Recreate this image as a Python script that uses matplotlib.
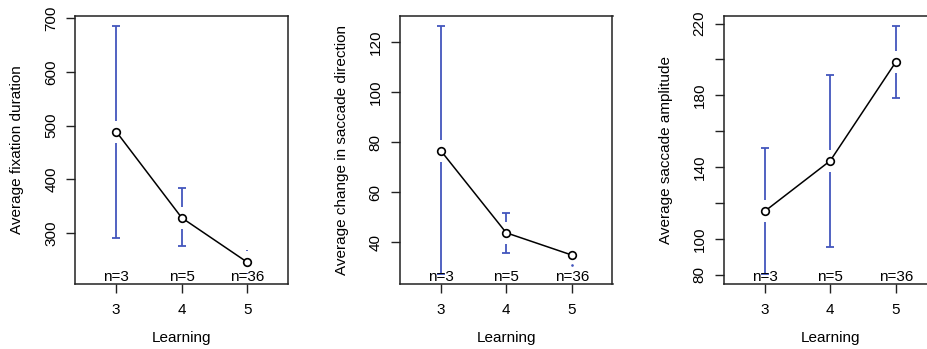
import matplotlib
matplotlib.use("Agg")
import matplotlib.pyplot as plt
import numpy as np

plt.rcParams['font.family'] = ['Liberation Sans', 'DejaVu Sans']

# ---- data ----
learning = [3, 4, 5]
n_labels = ["n=3", "n=5", "n=36"]

fix_mean = [489, 328, 245]
fix_lower = [291, 275, 223]
fix_upper = [686, 383, 268]

dir_mean = [76.7, 43.8, 34.9]
dir_lower = [27.3, 35.8, 30.9]
dir_upper = [126.5, 51.8, 39.4]

amp_mean = [115.3, 143.5, 198.6]
amp_lower = [80.3, 95.2, 178.4]
amp_upper = [150.8, 191.6, 218.7]

ylabels = ["Average fixation duration",
           "Average change in saccade direction",
           "Average saccade amplitude"]
yticks = [[300, 400, 500, 600, 700],
          [40, 60, 80, 100, 120],
          [80, 100, 120, 140, 160, 180, 200, 220]]
yticklabels = [["300", "400", "500", "600", "700"],
               ["40", "60", "80", "100", "120"],
               ["80", "100", "", "140", "", "180", "", "220"]]
xlabel = "Learning"

# ---- layout (pixels) ----
W, H = 928, 349
fig = plt.figure(figsize=(W / 100, H / 100), dpi=100)
ax_left_px = [75.5, 400, 724]
ax_w_px = 212.5
ax_top_px, ax_bot_px = 16, 284
ax_h_px = ax_bot_px - ax_top_px

bar_col = '#4356bd'
fs = 11
gap_px = 11.0

series = [(fix_mean, fix_lower, fix_upper),
          (dir_mean, dir_lower, dir_upper),
          (amp_mean, amp_lower, amp_upper)]

for i, (m, lo, up) in enumerate(series):
    ax = fig.add_axes([ax_left_px[i] / W, (H - ax_bot_px) / H,
                       ax_w_px / W, ax_h_px / H])
    ymin, ymax = min(lo), max(up)
    ext = 0.04 * (ymax - ymin)
    ymin, ymax = ymin - ext, ymax + ext
    ax.set_ylim(ymin, ymax)
    ax.set_xlim(2.38, 5.62)
    upp = ax_h_px / (ymax - ymin)   # pixels per data unit
    gap = gap_px / upp

    for x, mv, l, u in zip(learning, m, lo, up):
        for end, sign in ((u, 1), (l, -1)):
            start = mv + sign * gap
            seg_px = (end - start) * sign * upp
            if seg_px > 0:
                ax.plot([x, x], [start, end], color=bar_col, lw=1.3,
                        solid_capstyle='butt', zorder=2)
                if seg_px > 3:
                    ax.plot([x], [end], marker='_', ms=6.3, mew=1.3,
                            color=bar_col, zorder=2)
            else:
                ax.plot([x], [end], marker='.', ms=1.8, color=bar_col,
                        zorder=2)

    ax.plot(learning, m, color='black', lw=1.1, zorder=3)
    ax.plot(learning, m, 'o', ms=5.5, mfc='white', mec='black', mew=1.2,
            zorder=4)

    for x, t in zip(learning, n_labels):
        ax.annotate(t, xy=(x, ymin), xytext=(0, 2.2),
                    textcoords='offset points', ha='center', va='baseline',
                    fontsize=fs, color='black', zorder=5)

    ax.set_xticks(learning, [str(v) for v in learning], fontsize=fs)
    ax.set_yticks(yticks[i], yticklabels[i], fontsize=fs, rotation=90,
                  va='center')
    ax.tick_params(axis='both', direction='out', length=6.5, width=1.0,
                   color='#222222', labelcolor='black')
    ax.tick_params(axis='x', pad=7.5)
    ax.tick_params(axis='y', pad=6.0)
    for s in ax.spines.values():
        s.set_linewidth(1.1)
        s.set_color('#222222')

    ax.set_ylabel(ylabels[i], fontsize=fs, color='black')
    ax.yaxis.set_label_coords(-58 / ax_w_px, 0.5)
    ax.yaxis.label.set_va('center')
    ax.set_xlabel(xlabel, fontsize=fs, color='black')
    ax.xaxis.set_label_coords(0.5, -(338 - ax_bot_px) / ax_h_px)
    ax.xaxis.label.set_va('center')

fig.savefig("out.png", dpi=100)
